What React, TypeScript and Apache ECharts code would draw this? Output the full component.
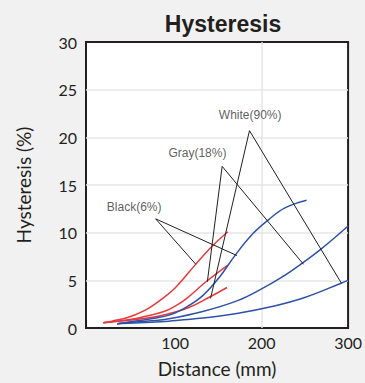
import React, { useEffect, useRef } from "react";
import * as echarts from "echarts";

const xTickValues = [100, 200, 300];
const yMin = 0;
const yMax = 30;
const yStep = 5;

// Black (6%)
const redBlack = [[17, 0.55], [27, 0.72], [46, 1.12], [65, 1.84], [84, 3.0], [100, 4.2], [124, 6.7], [143, 8.6], [161, 10.1]];
const blueBlack = [[33, 0.45], [72, 0.97], [93, 1.35], [113, 2.2], [132, 3.4], [151, 5.3], [170, 7.7], [189, 9.8], [208, 11.35], [227, 12.6], [252, 13.4]];
// Gray (18%)
const redGray = [[17, 0.55], [46, 0.86], [65, 1.2], [88, 1.75], [100, 2.3], [112, 3.0], [135, 4.8], [161, 6.6]];
const blueGray = [[33, 0.45], [72, 0.75], [93, 0.97], [132, 1.73], [173, 2.9], [200, 4.1], [223, 5.3], [244, 6.6], [269, 8.3], [300, 10.7]];
// White (90%)
const redWhite = [[17, 0.55], [46, 0.82], [72, 1.1], [93, 1.5], [116, 2.15], [139, 3.2], [160, 4.25]];
const blueWhite = [[33, 0.45], [72, 0.6], [93, 0.72], [132, 1.04], [173, 1.55], [212, 2.25], [250, 3.2], [292, 4.7], [300, 5.0]];

// annotations (data coordinates): label anchor, leader vertex, two leader ends
const annotationNames = ["Black(6%)", "Gray(18%)", "White(90%)"];
const annotationLabelAt = [[52.7, 12.7], [125.8, 18.4], [186.8, 22.3]];
const annotationVertex = [[77.5, 11.45], [154.4, 16.96], [186, 20.7]];
const annotationEndRed = [[124, 6.68], [137.3, 4.85], [141, 3.1]];
const annotationEndBlue = [[171.5, 7.6], [248.5, 6.68], [292.3, 4.7]];

const RED = "#e8383d";
const BLUE = "#2f52a8";
const INK = "#231f20";

export default function App() {
  const ref = useRef<HTMLDivElement>(null);
  useEffect(() => {
    if (!ref.current) return;
    const chart = echarts.init(ref.current, null, { renderer: "svg" });
    const curve = (name: string, data: number[][], color: string) => ({
      name,
      type: "line",
      data,
      smooth: 0.4,
      showSymbol: false,
      symbol: "none",
      lineStyle: { color, width: 1.5 },
      z: 3,
    });
    const leaders = annotationNames.map((n, i) => ({
      name: n + " leader",
      type: "line",
      data: [annotationEndRed[i], annotationVertex[i], annotationEndBlue[i]],
      symbol: "none",
      showSymbol: false,
      lineStyle: { color: INK, width: 1 },
      z: 4,
    }));
    const labels = {
      type: "scatter",
      symbolSize: 0,
      data: annotationNames.map((n, i) => ({ name: n, value: annotationLabelAt[i] })),
      label: {
        show: true,
        position: "inside",
        formatter: "{b}",
        color: "#333",
        fontSize: 12,
        fontFamily: "Liberation Sans, Arial, sans-serif",
      },
      z: 5,
    };
    chart.setOption({
      animation: false,
      backgroundColor: "#f1f1f1",
      title: {
        text: "Hysteresis",
        left: 218,
        textAlign: "center",
        top: 7,
        textStyle: {
          fontSize: 23,
          fontWeight: "bold",
          color: INK,
          fontFamily: "Liberation Sans, Arial, sans-serif",
        },
      },
      grid: {
        left: 86,
        right: 14,
        top: 42,
        bottom: 51,
        show: true,
        backgroundColor: "#ffffff",
        borderColor: INK,
        borderWidth: 2,
      },
      xAxis: {
        type: "value",
        min: -3,
        max: 300,
        name: "Distance (mm)",
        nameLocation: "middle",
        nameGap: 31,
        nameTextStyle: { fontSize: 19, color: INK, fontFamily: "Lato, sans-serif" },
        axisLine: { show: false },
        axisTick: { show: false, customValues: xTickValues },
        axisLabel: {
          customValues: xTickValues,
          margin: 6,
          fontSize: 16,
          color: INK,
          fontFamily: "Lato, sans-serif",
        },
        splitLine: {
          show: true,
          showMinLine: false,
          showMaxLine: false,
          lineStyle: { color: "#e6e6e6", width: 1.5 },
        },
      },
      yAxis: {
        type: "value",
        min: yMin,
        max: yMax,
        interval: yStep,
        name: "Hysteresis (%)",
        nameLocation: "middle",
        nameGap: 53,
        nameTextStyle: { fontSize: 19, color: INK, fontFamily: "Lato, sans-serif" },
        axisLine: { show: false },
        axisTick: { show: false },
        axisLabel: {
          margin: 9,
          fontSize: 16,
          color: INK,
          fontFamily: "Lato, sans-serif",
        },
        splitLine: {
          show: true,
          showMinLine: false,
          showMaxLine: false,
          lineStyle: { color: "#e6e6e6", width: 1.5 },
        },
      },
      series: [
        curve("Black red", redBlack, RED),
        curve("Gray red", redGray, RED),
        curve("White red", redWhite, RED),
        curve("Black blue", blueBlack, BLUE),
        curve("Gray blue", blueGray, BLUE),
        curve("White blue", blueWhite, BLUE),
        ...leaders,
        labels,
      ],
    });
    return () => chart.dispose();
  }, []);
  return (
    <div
      ref={ref}
      style={{ position: "fixed", left: 0, top: 0, width: 365, height: 383 }}
    />
  );
}
